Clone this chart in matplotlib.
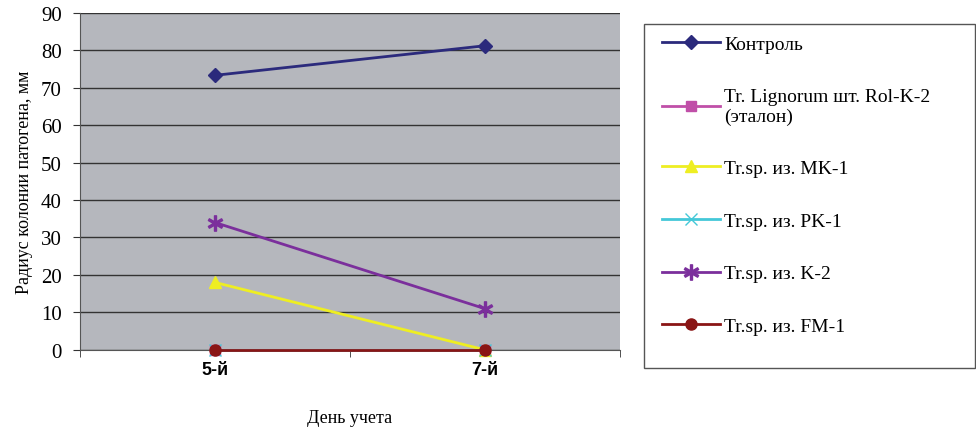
import matplotlib.pyplot as plt
from matplotlib.patches import Rectangle

days = ['5-й', '7-й']
kontrol = [73.3, 81.2]
etalon = [0, 0]
mk1 = [18, 0]
pk1 = [0, 0]
k2 = [34, 11]
fm1 = [0, 0]

labels = ['Контроль', 'Tr. Lignorum шт. Rol-K-2\n(эталон)', 'Tr.sp. из. MK-1',
          'Tr.sp. из. PK-1', 'Tr.sp. из. K-2', 'Tr.sp. из. FM-1']
series = [kontrol, etalon, mk1, pk1, k2, fm1]
colors = ['#2b2a7c', '#c04fa8', '#eeee22', '#44c8d8', '#7b2f9c', '#8a1515']
markers = ['D', 's', '^', 'x', '$\\ast$', 'o']
sizes = [7, 7, 9, 8, 11, 8]

plt.rcParams['font.family'] = ['Liberation Serif', 'DejaVu Serif']

fig = plt.figure(figsize=(9.76, 4.31), dpi=100)
ax = fig.add_axes([0.082, 0.186, 0.553, 0.782])
ax.set_facecolor('#b5b7bd')

x = range(len(days))
for vals, lab, c, m, s in zip(series, labels, colors, markers, sizes):
    ax.plot(x, vals, color=c, marker=m, markersize=s, linewidth=2,
            label=lab, clip_on=False, zorder=3)

ax.set_xlim(-0.5, 1.5)
ax.set_ylim(0, 90)
ax.set_yticks(range(0, 91, 10))
ax.grid(axis='y', color='#333333', linewidth=1)
ax.set_axisbelow(True)
ax.set_xticks(list(x))
ax.set_xticklabels(days, fontfamily='Liberation Sans', fontweight='bold', fontsize=13)
ax.set_xticks([-0.5, 0.5, 1.5], minor=True)
ax.tick_params(axis='x', which='major', length=0, pad=8)
ax.tick_params(axis='x', which='minor', length=5, color='#333333')
ax.tick_params(axis='y', labelsize=15, length=5, pad=8, color='#333333')
for side in ['top', 'right']:
    ax.spines[side].set_visible(False)
ax.spines['left'].set_color('#555555')
ax.spines['bottom'].set_color('#555555')

ax.set_ylabel('Радиус колонии патогена, мм', fontsize=13, labelpad=6)
ax.set_xlabel('День учета', fontsize=13, labelpad=22)

# legend box drawn separately (more room below the last entry)
fig.patches.append(Rectangle((0.66, 0.144), 0.339, 0.798, transform=fig.transFigure,
                             facecolor='white', edgecolor='#555555', linewidth=1))
fig.legend(loc='upper left', bbox_to_anchor=(0.668, 0.939), fontsize=14,
           frameon=False, labelspacing=1.8, handlelength=3.0, handletextpad=0.2,
           borderpad=0.5, borderaxespad=0)

fig.savefig('out.png', dpi=100)
